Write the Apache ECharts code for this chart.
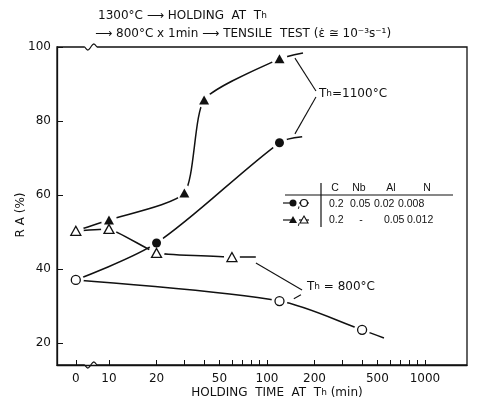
<!DOCTYPE html>
<html>
<head>
<meta charset="utf-8">
<script src="https://cdn.jsdelivr.net/npm/echarts@6/dist/echarts.min.js"></script>
<style>
    html, body { margin: 0; padding: 0; background: #fff; }
    #main { width: 477px; height: 401px; }
</style>
</head>
<body>
<div id="main"></div>
<script>
// 横轴: 0 点单独放在 10 的左边(断轴), 其余为对数刻度
var zeroPos = 0.79;
var xTickLabels = [0, 10, 20, 50, 100, 200, 500, 1000];
var xMinorTicks = [0, 10, 20, 30, 40, 50, 60, 70, 80, 90, 100, 200, 300, 400, 500, 600, 700, 800, 900, 1000];
var yTickLabels = [20, 40, 60, 80, 100];

// ● Nb 钢, Th = 1100°C (曲线从 0 min 的 ○ 出发)
var nbHotTime = [20, 120];
var nbHotRA = [47.0, 74.1];
// ○ Nb 钢, Th = 800°C
var nbColdTime = [0, 120, 400];
var nbColdRA = [37.0, 31.3, 23.5];
// ▲ Al 钢, Th = 1100°C (曲线从 0 min 的 △ 出发)
var alHotTime = [10, 30, 40, 120];
var alHotRA = [53.2, 60.5, 85.7, 96.8];
// △ Al 钢, Th = 800°C
var alColdTime = [0, 10, 20, 60];
var alColdRA = [50.3, 50.8, 44.3, 43.2];
// 曲线越过最后一点后的终点 [min, %]
var nbHotEnd = [167, 75.7];
var nbColdEnd = [550, 21.3];
var alHotEnd = [169, 98.4];
var alColdEnd = [85, 43.2];

var FONT = 'DejaVu Sans';
var NUMFONT = 'Liberation Sans';
var INK = '#111';

function toX(t) {
    return t === 0 ? zeroPos : Math.log10(t);
}
function points(times, vals) {
    var arr = [];
    for (var i = 0; i < times.length; i++) {
        arr.push([toX(times[i]), vals[i]]);
    }
    return arr;
}
function curve(start, times, vals, end) {
    var arr = start ? [[toX(start[0]), start[1]]] : [];
    arr = arr.concat(points(times, vals));
    arr.push([toX(end[0]), end[1]]);
    return arr;
}
function lineSeries(data, smooth) {
    return {
        type: 'line',
        data: data,
        showSymbol: false,
        smooth: smooth,
        silent: true,
        zlevel: 0,
        lineStyle: { color: INK, width: 1.5 }
    };
}
function markSeries(data, symbol, filled, size) {
    return {
        type: 'scatter',
        data: data,
        symbol: symbol,
        symbolSize: size,
        silent: true,
        zlevel: 2,
        itemStyle: filled ? { color: INK, opacity: 1 } : { color: '#fff', borderColor: INK, borderWidth: 1.3, opacity: 1 }
    };
}

var allMarks = points(nbHotTime, nbHotRA).concat(points(nbColdTime, nbColdRA),
    points(alHotTime, alHotRA), points(alColdTime, alColdRA));

var arrowLines = [
    [{ coord: [2.31, 88.1] }, { coord: [2.177, 97.0] }],
    [{ coord: [2.31, 86.5] }, { coord: [2.177, 76.5] }],
    [{ coord: [2.222, 34.3] }, { coord: [1.93, 41.6] }],
    [{ coord: [2.215, 33.0] }, { coord: [2.170, 31.9] }]
];

var myChart = echarts.init(document.getElementById('main'));

var option = {
    animation: false,
    grid: {
        left: 57,
        right: 10,
        top: 47,
        bottom: 36,
        show: true,
        borderColor: INK,
        borderWidth: 1.3
    },
    xAxis: {
        type: 'value',
        min: 0.671,
        max: 3.266,
        axisLine: { show: true, lineStyle: { color: INK, width: 1.3 } },
        splitLine: { show: false },
        axisTick: {
            show: true,
            inside: true,
            length: 5,
            lineStyle: { color: INK },
            customValues: xMinorTicks.map(toX)
        },
        axisLabel: {
            color: INK,
            fontFamily: FONT,
            fontSize: 12,
            margin: 8,
            customValues: xTickLabels.map(toX),
            formatter: function (v) {
                if (Math.abs(v - zeroPos) < 0.01) return '0';
                return String(Math.round(Math.pow(10, v)));
            }
        }
    },
    yAxis: {
        type: 'value',
        min: 14,
        max: 100,
        axisLine: { show: true, lineStyle: { color: INK, width: 1.3 } },
        splitLine: { show: false },
        axisTick: {
            show: true,
            inside: true,
            length: 6,
            lineStyle: { color: INK },
            customValues: yTickLabels
        },
        axisLabel: {
            color: INK,
            fontFamily: FONT,
            fontSize: 12,
            margin: 6,
            customValues: yTickLabels
        }
    },
    series: [
        lineSeries(curve([0, nbColdRA[0]], nbHotTime, nbHotRA, nbHotEnd), 0.3),
        lineSeries(curve(null, nbColdTime, nbColdRA, nbColdEnd), 0.3),
        lineSeries(curve([0, alColdRA[0]], alHotTime, alHotRA, alHotEnd), 0.2),
        lineSeries(curve(null, alColdTime, alColdRA, alColdEnd), 0.1),
        {
            // 点周围留白, 让线条在标记前断开
            type: 'scatter',
            data: allMarks,
            symbol: 'circle',
            symbolSize: 16,
            silent: true,
            zlevel: 1,
            itemStyle: { color: '#fff', opacity: 1 }
        },
        markSeries(points(nbHotTime, nbHotRA), 'circle', true, 9),
        markSeries(points(nbColdTime, nbColdRA), 'circle', false, 9),
        markSeries(points(alHotTime, alHotRA), 'triangle', true, [10, 9]),
        markSeries(points(alColdTime, alColdRA), 'triangle', false, [10, 9]),
        {
            type: 'line',
            data: [],
            silent: true,
            markLine: {
                silent: true,
                symbol: ['none', 'arrow'],
                symbolSize: [0, 7],
                label: { show: false },
                lineStyle: { color: INK, width: 1.1, type: 'solid' },
                data: arrowLines
            }
        }
    ]
};
myChart.setOption(option);

// 文字、表格与断轴记号
var txt = function (x, y, text, size, align, extra, family) {
    var el = {
        type: 'text',
        x: x,
        y: y,
        silent: true,
        style: {
            text: text,
            fill: INK,
            font: (size || 12) + 'px "' + (family || FONT) + '"',
            textAlign: align || 'left',
            textVerticalAlign: 'middle',
            rich: { h: { fontSize: (size || 12) - 3, fontFamily: FONT, fill: INK } }
        }
    };
    if (extra) {
        for (var k in extra) el[k] = extra[k];
    }
    return el;
};
var num = function (x, y, text, align) {
    return txt(x, y, text, 10.5, align, null, NUMFONT);
};
var seg = function (x1, y1, x2, y2, w) {
    return {
        type: 'line', silent: true,
        shape: { x1: x1, y1: y1, x2: x2, y2: y2 },
        style: { stroke: INK, lineWidth: w || 1.2 }
    };
};

var graphics = [
    txt(98, 16, '1300°C ⟶ HOLDING  AT  T{h|h}', 12),
    txt(95, 34, '⟶ 800°C x 1min ⟶ TENSILE  TEST (ε̇ ≅ 10⁻³s⁻¹)', 12),
    txt(277, 393, 'HOLDING  TIME  AT  T{h|h} (min)', 12, 'center'),
    txt(21, 215, 'R A (%)', 12, 'center', { rotation: Math.PI / 2 }),
    txt(319, 94, 'T{h|h}=1100°C', 12),
    txt(307, 287, 'T{h|h} = 800°C', 12),
    // 成分表
    seg(321, 183, 321, 227),
    seg(285, 195, 453, 195),
    num(335, 188, 'C', 'center'),
    num(359, 188, 'Nb', 'center'),
    num(391, 188, 'Al', 'center'),
    num(427, 188, 'N', 'center'),
    num(329, 204, '0.2'),
    num(350, 204, '0.05'),
    num(374, 204, '0.02'),
    num(398, 204, '0.008'),
    num(329, 220, '0.2'),
    num(361, 220, '-', 'center'),
    num(384, 220, '0.05'),
    num(407, 220, '0.012'),
    seg(283, 203, 291, 203),
    { type: 'circle', silent: true, shape: { cx: 293, cy: 203, r: 3.5 }, style: { fill: INK } },
    txt(297, 205, ',', 11),
    seg(299, 203, 309, 203),
    { type: 'circle', silent: true, shape: { cx: 304, cy: 203, r: 3.5 }, style: { fill: '#fff', stroke: INK, lineWidth: 1.2 } },
    seg(283, 220, 291, 220),
    { type: 'polygon', silent: true, shape: { points: [[293, 216], [297, 223], [289, 223]] }, style: { fill: INK } },
    txt(297, 222, ',', 11),
    seg(299, 220, 309, 220),
    { type: 'polygon', silent: true, shape: { points: [[304, 216], [308, 223], [300, 223]] }, style: { fill: '#fff', stroke: INK, lineWidth: 1.1 } }
];

// 断轴记号 (上下边框各一个)
var breakX = myChart.convertToPixel({ gridIndex: 0 }, [0.885, 100])[0];
var topY = myChart.convertToPixel({ gridIndex: 0 }, [0.885, 100])[1];
var botY = myChart.convertToPixel({ gridIndex: 0 }, [0.885, 14])[1];
[topY, botY].forEach(function (y) {
    var pts = [];
    for (var i = -6; i <= 6; i++) {
        pts.push([breakX + i, y - 3 * Math.sin(i * Math.PI / 6)]);
    }
    graphics.push({ type: 'rect', silent: true, shape: { x: breakX - 6, y: y - 2, width: 12, height: 4 }, style: { fill: '#fff' } });
    graphics.push({ type: 'polyline', silent: true, shape: { points: pts }, style: { stroke: INK, lineWidth: 1.2, fill: null } });
});

myChart.setOption({ graphic: graphics });
</script>
</body>
</html>
